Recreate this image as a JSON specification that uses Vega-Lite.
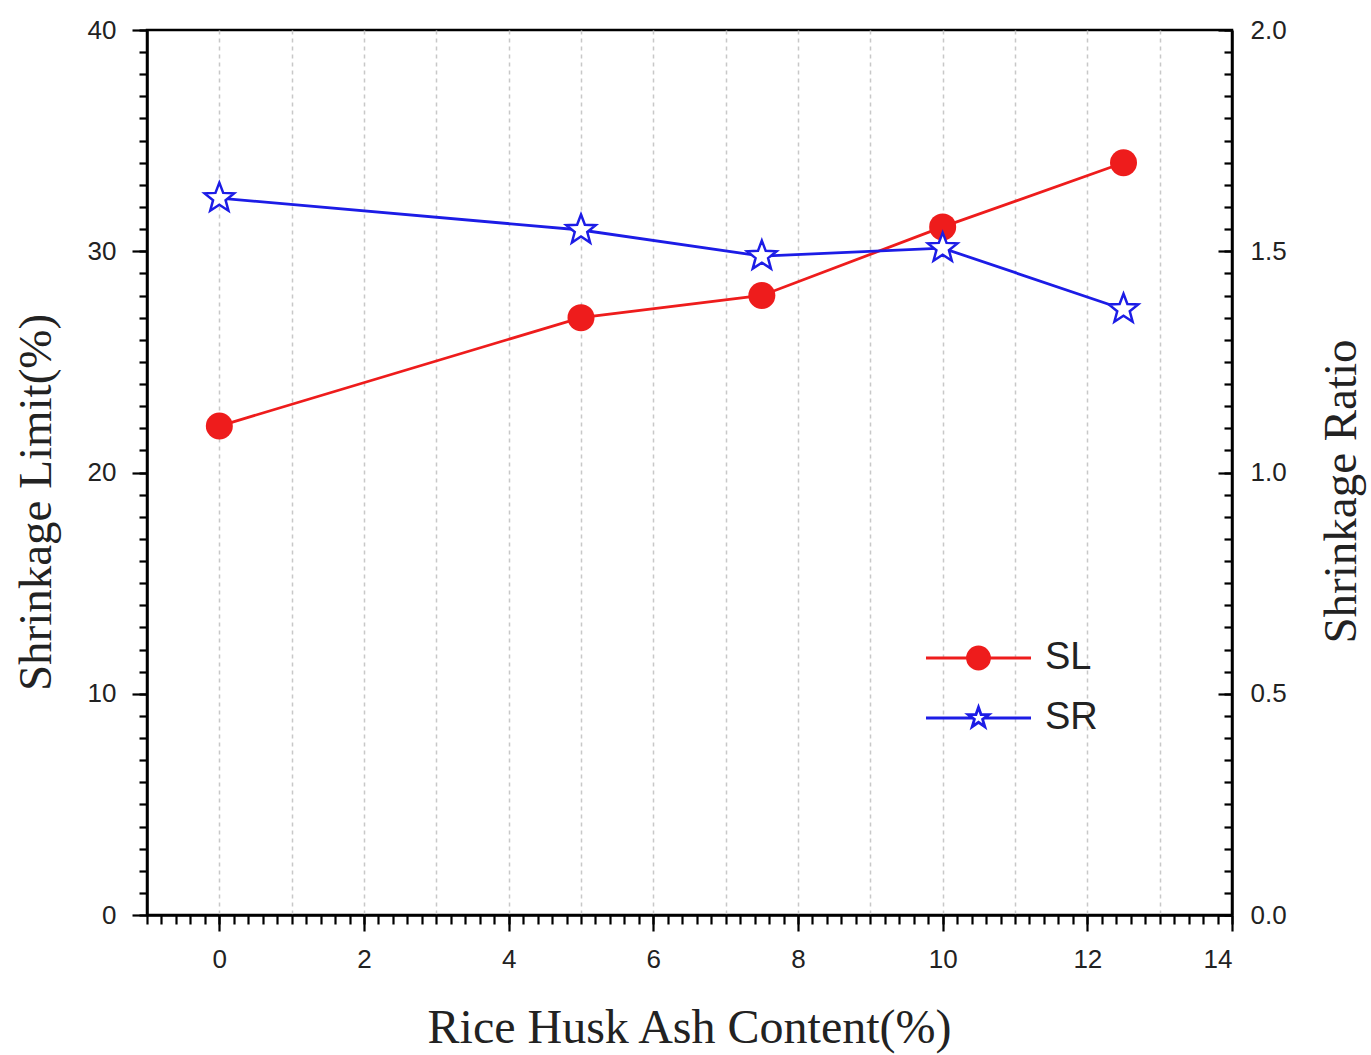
{
  "$schema": "https://vega.github.io/schema/vega-lite/v6.json",
  "width": 1085,
  "height": 885,
  "autosize": "none",
  "padding": {"left": 147, "top": 30, "right": 139, "bottom": 140},
  "background": "white",
  "config": {
    "view": {"stroke": "black", "strokeWidth": 2.5},
    "axis": {
      "domainColor": "black",
      "domainWidth": 2.5,
      "tickColor": "black",
      "tickWidth": 2.2,
      "labelFont": "Liberation Sans",
      "labelFontSize": 26,
      "labelColor": "#222222",
      "titleFont": "Liberation Serif",
      "titleFontSize": 47,
      "titleFontWeight": "normal",
      "titleColor": "#222222",
      "grid": false
    }
  },
  "data": {
    "values": [
      {"x": 0, "series": "SL", "value": 22.1},
      {"x": 5, "series": "SL", "value": 27.0},
      {"x": 7.5, "series": "SL", "value": 28.0},
      {"x": 10, "series": "SL", "value": 31.1},
      {"x": 12.5, "series": "SL", "value": 34.0},
      {"x": 0, "series": "SR", "value": 1.62},
      {"x": 5, "series": "SR", "value": 1.548},
      {"x": 7.5, "series": "SR", "value": 1.489},
      {"x": 10, "series": "SR", "value": 1.507},
      {"x": 12.5, "series": "SR", "value": 1.369}
    ]
  },
  "layer": [
    {
      "transform": [{"filter": "datum.series === 'SL'"}],
      "layer": [
        {
          "mark": {"type": "line", "strokeWidth": 2.8},
          "encoding": {
            "x": {
              "field": "x",
              "type": "quantitative",
              "scale": {"domain": [-1, 14], "nice": false, "zero": false},
              "axis": {
                "orient": "bottom",
                "title": "Rice Husk Ash Content(%)",
                "titleFontSize": 48,
                "titleX": 542,
                "titleY": 127,
                "titleBaseline": "alphabetic",
                "values": [0, 2, 4, 6, 8, 10, 12, 14],
                "format": "d",
                "tickSize": 16,
                "labelPadding": 15
              }
            },
            "y": {
              "field": "value",
              "type": "quantitative",
              "scale": {"domain": [0, 40], "nice": false},
              "axis": {
                "orient": "left",
                "title": "Shrinkage Limit(%)",
                "titleX": -97,
                "titleY": 472,
                "titleAngle": -90,
                "titleBaseline": "alphabetic",
                "values": [0, 10, 20, 30, 40],
                "format": "d",
                "tickSize": 15,
                "labelPadding": 16
              }
            },
            "color": {
              "field": "series",
              "type": "nominal",
              "scale": {"domain": ["SL", "SR"], "range": ["#ee1c1c", "#1c1ce6"]},
              "legend": {
                "title": null,
                "orient": "none",
                "legendX": 772,
                "legendY": 609,
                "padding": 0,
                "symbolSize": 576,
                "symbolStrokeWidth": 2.8,
                "labelFont": "Liberation Sans",
                "labelFontSize": 38,
                "labelColor": "#222222",
                "labelOffset": 88,
                "rowPadding": 22,
                "encode": {
                  "symbols": {
                    "update": {
                      "shape": {"signal": "datum.value === 'SL' ? 'M-1,0H7.75M2.458,0A0.917,0.917 0 1,0 4.292,0A0.917,0.917 0 1,0 2.458,0Z' : 'M-1,0H2.886M3.864,0H7.75M3.375,-0.9L3.587,-0.291L4.231,-0.278L3.717,0.111L3.904,0.728L3.375,0.36L2.846,0.728L3.033,0.111L2.519,-0.278L3.163,-0.291Z'"},
                      "fill": {"signal": "datum.value === 'SL' ? '#ee1c1c' : 'white'"},
                      "fillOpacity": {"value": 1},
                      "strokeWidth": {"value": 2.8}
                    }
                  }
                }
              }
            }
          }
        },
        {
          "mark": {"type": "point", "shape": "circle", "filled": true, "size": 729, "color": "#ee1c1c", "opacity": 1},
          "encoding": {
            "x": {
              "field": "x",
              "type": "quantitative",
              "axis": {
                "orient": "bottom",
                "title": null,
                "labels": false,
                "domain": false,
                "values": [-1,-0.8,-0.6,-0.4,-0.2,0,0.2,0.4,0.6,0.8,1,1.2,1.4,1.6,1.8,2,2.2,2.4,2.6,2.8,3,3.2,3.4,3.6,3.8,4,4.2,4.4,4.6,4.8,5,5.2,5.4,5.6,5.8,6,6.2,6.4,6.6,6.8,7,7.2,7.4,7.6,7.8,8,8.2,8.4,8.6,8.8,9,9.2,9.4,9.6,9.8,10,10.2,10.4,10.6,10.8,11,11.2,11.4,11.6,11.8,12,12.2,12.4,12.6,12.8,13,13.2,13.4,13.6,13.8,14],
                "tickSize": 9
              }
            },
            "y": {
              "field": "value",
              "type": "quantitative",
              "axis": {
                "orient": "left",
                "title": null,
                "labels": false,
                "domain": false,
                "values": [0,1,2,3,4,5,6,7,8,9,10,11,12,13,14,15,16,17,18,19,20,21,22,23,24,25,26,27,28,29,30,31,32,33,34,35,36,37,38,39,40],
                "tickSize": 8
              }
            }
          }
        }
      ],
      "resolve": {"axis": {"x": "independent", "y": "independent"}}
    },
    {
      "transform": [{"filter": "datum.series === 'SR'"}],
      "layer": [
        {
          "mark": {"type": "line", "strokeWidth": 2.8},
          "encoding": {
            "x": {
              "field": "x",
              "type": "quantitative",
              "axis": {
                "orient": "bottom",
                "title": null,
                "labels": false,
                "domain": false,
                "ticks": false,
                "values": [0, 1, 2, 3, 4, 5, 6, 7, 8, 9, 10, 11, 12, 13],
                "grid": true,
                "gridColor": "#c8c8c8",
                "gridDash": [4, 4],
                "gridWidth": 1.5
              }
            },
            "y": {
              "field": "value",
              "type": "quantitative",
              "scale": {"domain": [0, 2], "nice": false},
              "axis": {
                "orient": "right",
                "title": "Shrinkage Ratio",
                "titleX": 123,
                "titleY": 461,
                "titleAngle": -90,
                "titleBaseline": "alphabetic",
                "values": [0, 0.5, 1, 1.5, 2],
                "format": ".1f",
                "tickSize": -14,
                "labelPadding": 32
              }
            },
            "color": {
              "field": "series",
              "type": "nominal",
              "scale": {"domain": ["SL", "SR"], "range": ["#ee1c1c", "#1c1ce6"]}
            }
          }
        },
        {
          "mark": {"type": "point", "shape": "M0,-1L0.25,-0.34L0.951,-0.309L0.404,0.131L0.588,0.809L0,0.42L-0.588,0.809L-0.404,0.131L-0.951,-0.309L-0.25,-0.34Z", "filled": true, "fill": "white", "fillOpacity": 1, "stroke": "#1c1ce6", "strokeWidth": 2.5, "size": 960, "opacity": 1},
          "encoding": {
            "x": {"field": "x", "type": "quantitative", "axis": null},
            "y": {
              "field": "value",
              "type": "quantitative",
              "axis": {
                "orient": "right",
                "title": null,
                "labels": false,
                "domain": false,
                "values": [0,0.05,0.1,0.15,0.2,0.25,0.3,0.35,0.4,0.45,0.5,0.55,0.6,0.65,0.7,0.75,0.8,0.85,0.9,0.95,1,1.05,1.1,1.15,1.2,1.25,1.3,1.35,1.4,1.45,1.5,1.55,1.6,1.65,1.7,1.75,1.8,1.85,1.9,1.95,2],
                "tickSize": -8
              }
            }
          }
        }
      ],
      "resolve": {"axis": {"x": "independent", "y": "independent"}}
    }
  ],
  "resolve": {"scale": {"y": "independent"}, "axis": {"x": "independent"}}
}
